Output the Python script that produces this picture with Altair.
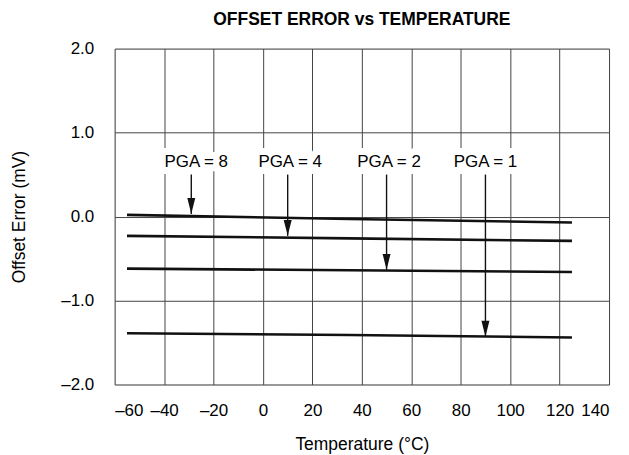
import altair as alt
import pandas as pd

temps = [-55, 35, 125]
pga8 = [0.02, -0.03, -0.07]
pga4 = [-0.23, -0.26, -0.29]
pga2 = [-0.62, -0.64, -0.66]
pga1 = [-1.39, -1.41, -1.44]

labels = ["PGA = 8", "PGA = 4", "PGA = 2", "PGA = 1"]
label_x = [-27, 11, 51, 90]
label_y = [0.65, 0.65, 0.65, 0.65]
arrow_x = [-29, 10, 50, 90]
arrow_top = [0.50, 0.50, 0.50, 0.50]
arrow_tip = [0.03, -0.23, -0.635, -1.43]

rows = []
for name, vals in [("8", pga8), ("4", pga4), ("2", pga2), ("1", pga1)]:
    for t, v in zip(temps, vals):
        rows.append({"series": name, "t": t, "v": v})
lines_df = pd.DataFrame(rows)
ann_df = pd.DataFrame({"label": labels, "lx": label_x, "ly": label_y,
                       "ax": arrow_x, "atop": arrow_top, "atip": arrow_tip})

FONT = "Liberation Sans"
xscale = alt.Scale(domain=[-60, 140], nice=False, zero=False)
yscale = alt.Scale(domain=[-2, 2], nice=False, zero=False)

xaxis = alt.Axis(values=list(range(-60, 141, 20)), title="Temperature (°C)",
                 labelExpr="(datum.value < 0 ? '–' : '') + format(abs(datum.value), 'd')",
                 ticks=False, domain=False, grid=True, gridColor="#444", gridWidth=1,
                 labelFont=FONT, labelFontSize=17, labelColor="#000", labelPadding=18,
                 titleFont=FONT, titleFontSize=17.5, titleFontWeight="normal", titleColor="#000",
                 titlePadding=17)
yaxis = alt.Axis(values=[-2, -1, 0, 1, 2], title="Offset Error (mV)",
                 labelExpr="(datum.value < 0 ? '–' : '') + format(abs(datum.value), '.1f')",
                 ticks=False, domain=False, grid=True, gridColor="#444", gridWidth=1,
                 labelFont=FONT, labelFontSize=17, labelColor="#000", labelPadding=21,
                 titleFont=FONT, titleFontSize=17.5, titleFontWeight="normal", titleColor="#000",
                 titlePadding=32)

lines = alt.Chart(lines_df).mark_line(color="#111", strokeWidth=2.6).encode(
    x=alt.X("t:Q", scale=xscale, axis=xaxis),
    y=alt.Y("v:Q", scale=yscale, axis=yaxis),
    detail="series:N",
)

halo = alt.Chart(ann_df).mark_text(font=FONT, fontSize=17, color="white", stroke="white",
                                   strokeWidth=14, strokeJoin="miter").encode(
    x=alt.X("lx:Q", scale=xscale),
    y=alt.Y("ly:Q", scale=yscale),
    text="label:N",
)

stems = alt.Chart(ann_df).mark_rule(color="#111", strokeWidth=1.4).encode(
    x=alt.X("ax:Q", scale=xscale),
    y=alt.Y("atop:Q", scale=yscale),
    y2="atip:Q",
)

heads = alt.Chart(ann_df).mark_point(
    shape="M-0.5,-2L0.5,-2L0,0Z", size=256, filled=True, color="#111", opacity=1, strokeWidth=0
).encode(
    x=alt.X("ax:Q", scale=xscale),
    y=alt.Y("atip:Q", scale=yscale),
)

texts = alt.Chart(ann_df).mark_text(font=FONT, fontSize=17, color="#000").encode(
    x=alt.X("lx:Q", scale=xscale),
    y=alt.Y("ly:Q", scale=yscale),
    text="label:N",
)

chart = alt.layer(lines, halo, stems, heads, texts).properties(
    width=496, height=337,
    title=alt.Title("OFFSET ERROR vs TEMPERATURE", font=FONT, fontSize=17.5,
                    fontWeight="bold", color="#000", anchor="middle", offset=11, frame="group"),
    autosize=alt.AutoSizeParams(type="none"),
    padding={"left": 107, "top": 40, "right": 12, "bottom": 70},
).configure_view(stroke="#111", strokeWidth=2.2).configure(background="white")

chart.save("out.html", embed_options={"renderer": "svg", "actions": False})
